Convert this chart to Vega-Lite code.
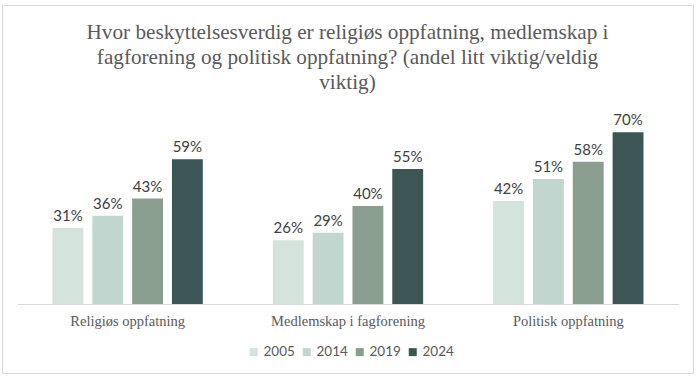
{
  "$schema": "https://vega.github.io/schema/vega-lite/v6.json",
  "width": 691,
  "height": 368,
  "autosize": {"type": "none"},
  "padding": {"left": 2, "top": 5, "right": 4, "bottom": 3},
  "background": "white",
  "config": {"view": {"stroke": "#d9d9d9", "strokeWidth": 1}},
  "title": {
    "text": ["Hvor beskyttelsesverdig er religiøs oppfatning, medlemskap i", "fagforening og politisk oppfatning? (andel litt viktig/veldig", "viktig)"],
    "font": "Liberation Serif",
    "fontSize": 21.2,
    "fontWeight": "normal",
    "color": "#595959",
    "lineHeight": 25,
    "baseline": "top",
    "offset": -88,
    "anchor": "middle"
  },
  "data": {
    "values": [
      {"kategori": "Religiøs oppfatning", "year": "2005", "value": 0.31},
      {"kategori": "Religiøs oppfatning", "year": "2014", "value": 0.36},
      {"kategori": "Religiøs oppfatning", "year": "2019", "value": 0.43},
      {"kategori": "Religiøs oppfatning", "year": "2024", "value": 0.59},
      {"kategori": "Medlemskap i fagforening", "year": "2005", "value": 0.26},
      {"kategori": "Medlemskap i fagforening", "year": "2014", "value": 0.29},
      {"kategori": "Medlemskap i fagforening", "year": "2019", "value": 0.40},
      {"kategori": "Medlemskap i fagforening", "year": "2024", "value": 0.55},
      {"kategori": "Politisk oppfatning", "year": "2005", "value": 0.42},
      {"kategori": "Politisk oppfatning", "year": "2014", "value": 0.51},
      {"kategori": "Politisk oppfatning", "year": "2019", "value": 0.58},
      {"kategori": "Politisk oppfatning", "year": "2024", "value": 0.70}
    ]
  },
  "encoding": {
    "x": {
      "field": "kategori",
      "type": "nominal",
      "sort": ["Religiøs oppfatning", "Medlemskap i fagforening", "Politisk oppfatning"],
      "scale": {"range": [15.5, 676.5], "paddingInner": 0.318, "paddingOuter": 0.159},
      "axis": {
        "title": null,
        "offset": -69,
        "domainColor": "#d9d9d9",
        "domainWidth": 1,
        "ticks": false,
        "labelAngle": 0,
        "labelFont": "Liberation Serif",
        "labelFontSize": 14.5,
        "labelColor": "#595959",
        "labelPadding": 10
      }
    },
    "xOffset": {"field": "year", "type": "nominal", "scale": {"paddingInner": 0.225, "paddingOuter": 0}},
    "y": {"field": "value", "type": "quantitative", "scale": {"domain": [0, 1], "range": [299, 53.7]}, "axis": null}
  },
  "layer": [
    {
      "mark": {"type": "bar"},
      "encoding": {
        "color": {
          "field": "year",
          "type": "nominal",
          "scale": {"domain": ["2005", "2014", "2019", "2024"], "range": ["#d4e3dc", "#c1d6ce", "#899e8f", "#3b5654"]},
          "legend": {
            "title": null,
            "orient": "none",
            "legendX": 245,
            "legendY": 340,
            "direction": "horizontal",
            "padding": 0,
            "symbolType": "square",
            "symbolSize": 64,
            "symbolStrokeWidth": 0,
            "labelFont": "Lato",
            "labelFontSize": 13.5,
            "labelColor": "#595959",
            "labelOffset": 3,
            "columnPadding": 5
          }
        }
      }
    },
    {
      "mark": {"type": "text", "baseline": "alphabetic", "dy": -7, "font": "Lato", "fontSize": 15, "color": "#404040"},
      "encoding": {"text": {"field": "value", "type": "quantitative", "format": ".0%"}}
    }
  ]
}
